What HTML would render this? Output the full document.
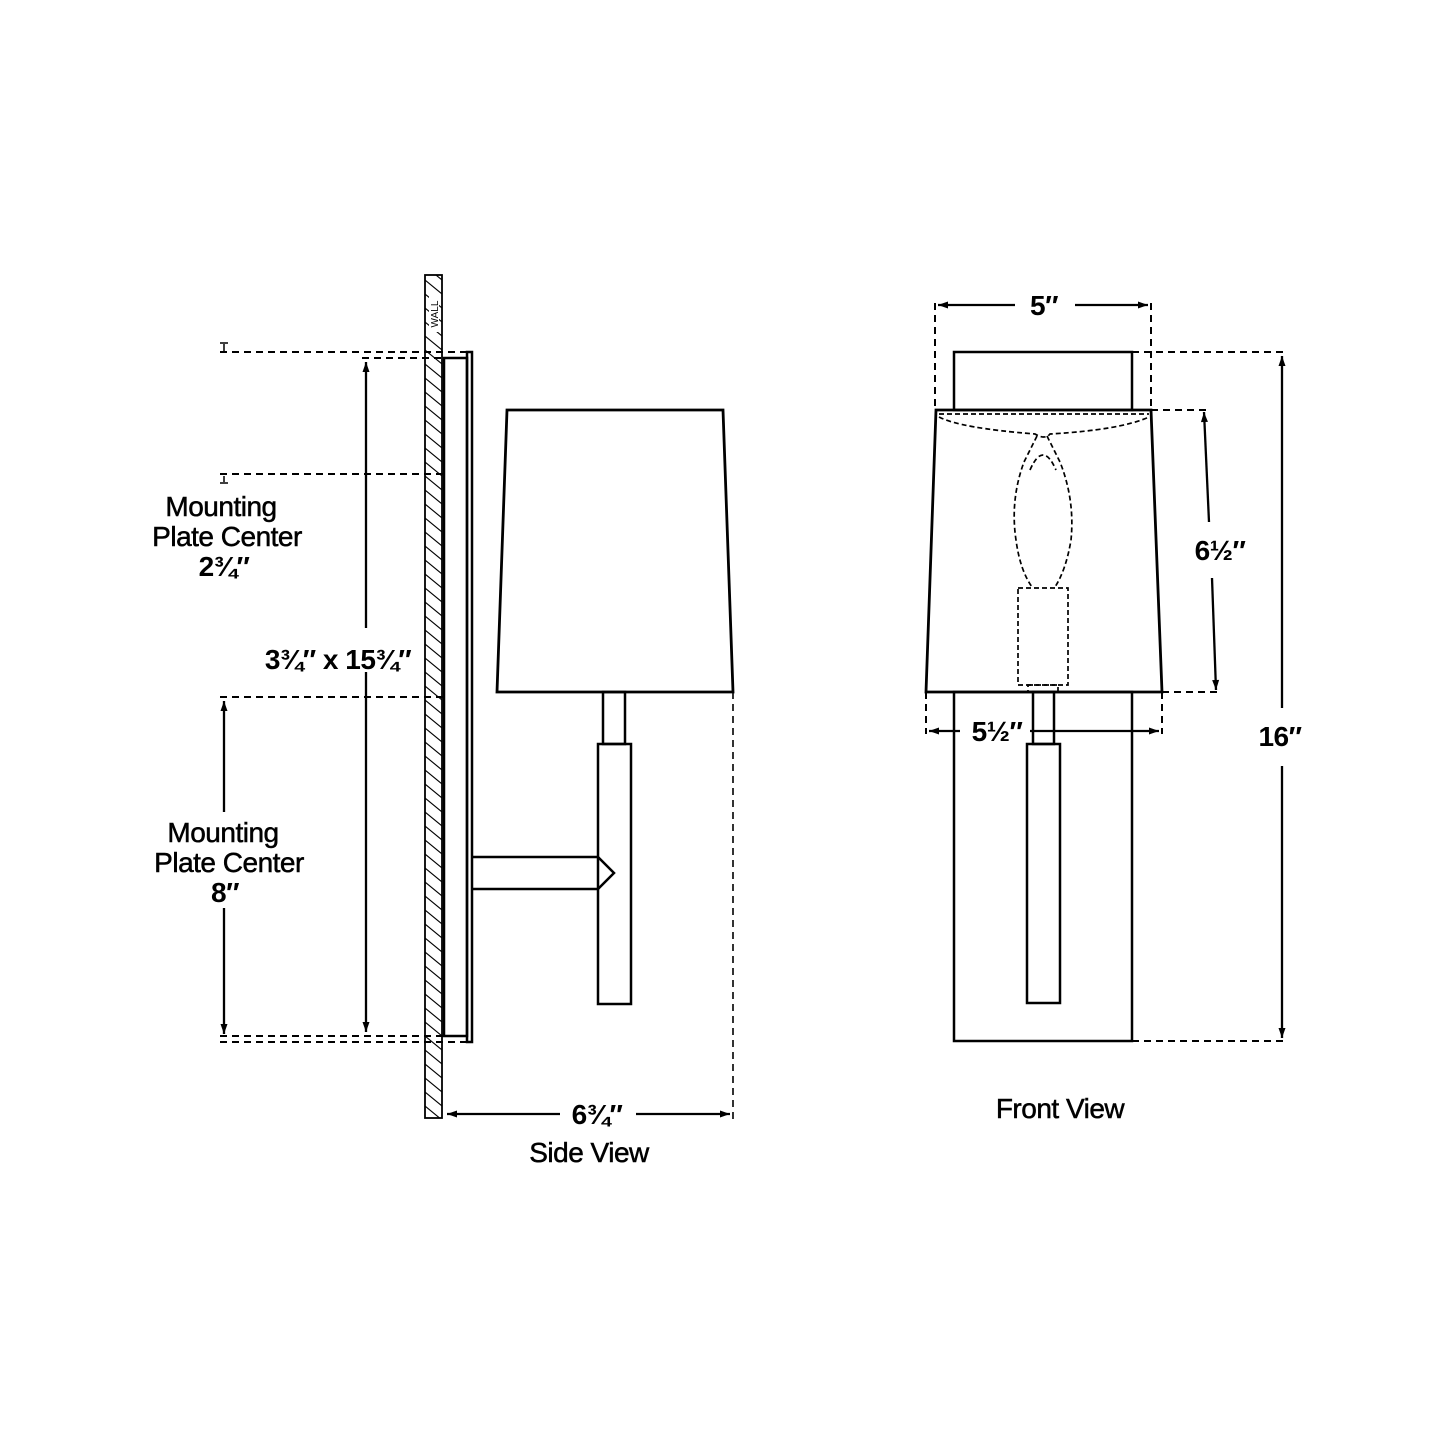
<!DOCTYPE html>
<html><head><meta charset="utf-8"><style>
html,body{margin:0;padding:0;background:#fff;}
svg{display:block;}
text{font-family:"Liberation Sans",sans-serif;fill:#000;}
.t{stroke:#000;stroke-width:0.5;}
</style></head><body>
<svg width="1445" height="1445" viewBox="0 0 1445 1445" xmlns="http://www.w3.org/2000/svg">
<defs>
<pattern id="h" patternUnits="userSpaceOnUse" width="17" height="14">
<line x1="0" y1="0" x2="17" y2="14" stroke="#000" stroke-width="1.1"/>
<line x1="0" y1="-14" x2="17" y2="0" stroke="#000" stroke-width="1.1"/>
<line x1="0" y1="14" x2="17" y2="28" stroke="#000" stroke-width="1.1"/>
</pattern>
<marker id="a" viewBox="0 0 10 10" refX="10" refY="5" markerWidth="11" markerHeight="10" markerUnits="userSpaceOnUse" orient="auto"><path d="M0,1.5 L10,5 L0,8.5 z" fill="#000"/></marker>
</defs>
<g fill="none" stroke="#000" stroke-width="2.5">
<rect x="425" y="275" width="17" height="843" fill="url(#h)" stroke-width="1.8"/>
<rect x="444" y="358" width="23" height="678"/>
<rect x="467" y="352" width="5" height="690"/>
<path d="M507,410 L723,410 L733,692 L497,692 Z" stroke-width="2.8"/>
<rect x="603" y="692" width="22" height="52"/>
<rect x="598" y="744" width="33" height="260"/>
<path d="M472,857 L598,857 L614,873 L598,889 L472,889"/>
</g>
<rect x="429" y="296" width="10" height="36" fill="#fff"/>
<text x="438" y="314" font-size="10" transform="rotate(-90 438 314)" text-anchor="middle">WALL</text>
<g fill="none" stroke="#000" stroke-width="2" stroke-dasharray="7,5">
<line x1="220" y1="352" x2="467" y2="352"/>
<line x1="362" y1="358" x2="444" y2="358"/>
<line x1="220" y1="474" x2="444" y2="474"/>
<line x1="220" y1="697" x2="444" y2="697"/>
<line x1="220" y1="1036" x2="444" y2="1036"/>
<line x1="220" y1="1042" x2="467" y2="1042"/>
<line x1="733" y1="692" x2="733" y2="1120" stroke-width="1.6"/>
</g>
<g stroke="#000" stroke-width="2.3" fill="none">
<line x1="366" y1="628" x2="366" y2="362" marker-end="url(#a)"/>
<line x1="366" y1="672" x2="366" y2="1032" marker-end="url(#a)"/>
<line x1="224" y1="812" x2="224" y2="701" marker-end="url(#a)"/>
<line x1="224" y1="908" x2="224" y2="1034" marker-end="url(#a)"/>
<line x1="224" y1="344" x2="224" y2="351" stroke-width="1.5"/>
<line x1="220" y1="343" x2="228" y2="343" stroke-width="1.5"/>
<line x1="224" y1="476" x2="224" y2="482" stroke-width="1.5"/>
<line x1="220" y1="483" x2="228" y2="483" stroke-width="1.5"/>
<line x1="560" y1="1114" x2="447" y2="1114" marker-end="url(#a)"/>
<line x1="636" y1="1114" x2="730" y2="1114" marker-end="url(#a)"/>
</g>
<g font-size="28" text-anchor="middle" letter-spacing="-0.5">
<text class="t" x="221" y="516">Mounting</text>
<text class="t" x="227" y="546">Plate Center</text>
<text x="224" y="576" font-weight="bold">2¾″</text>
<text class="t" x="223" y="842">Mounting</text>
<text class="t" x="229" y="872">Plate Center</text>
<text x="225" y="902" font-weight="bold">8″</text>
<text x="338" y="669" font-weight="bold">3¾″ x 15¾″</text>
<text x="597" y="1124" font-weight="bold">6¾″</text>
<text class="t" x="589" y="1162">Side View</text>
<text class="t" x="1060" y="1118">Front View</text>
<text x="1044" y="315" font-weight="bold">5″</text>
<text x="1220" y="560" font-weight="bold">6½″</text>
<text x="997" y="741" font-weight="bold">5½″</text>
<text x="1280" y="746" font-weight="bold">16″</text>
</g>
<g fill="none" stroke="#000" stroke-width="2.5">
<rect x="954" y="352" width="178" height="58"/>
<path d="M936,410 L1151,410 L1162,692 L926,692 Z" stroke-width="2.8"/>
<rect x="954" y="692" width="178" height="349"/>
<rect x="1033" y="692" width="21" height="52"/>
<rect x="1027" y="744" width="33" height="259"/>
</g>
<g fill="none" stroke="#000" stroke-width="2" stroke-dasharray="7,5">
<line x1="935" y1="303" x2="935" y2="410"/>
<line x1="1151" y1="303" x2="1151" y2="410"/>
<line x1="1132" y1="352" x2="1286" y2="352"/>
<line x1="1151" y1="410" x2="1210" y2="410"/>
<line x1="1162" y1="692" x2="1220" y2="692"/>
<line x1="926" y1="692" x2="926" y2="734"/>
<line x1="1162" y1="692" x2="1162" y2="734"/>
<line x1="1132" y1="1041" x2="1286" y2="1041"/>
</g>
<g fill="none" stroke="#000" stroke-width="1.7" stroke-dasharray="5,3">
<path d="M939,414 L1149,414"/>
<path d="M939,417 Q960,428 1035,434 Q1045,440 1050,434 Q1120,430 1149,417"/>
<path d="M1037,436 L1024,462 Q1010,500 1016,540 Q1020,570 1032,587"/>
<path d="M1047,436 L1060,462 Q1075,500 1071,540 Q1066,570 1055,587"/>
<path d="M1030,470 Q1043,440 1056,470"/>
<rect x="1018" y="588" width="50" height="97"/>
<rect x="1028" y="685" width="30" height="7"/>
</g>
<g stroke="#000" stroke-width="2.3" fill="none">
<line x1="1015" y1="305" x2="938" y2="305" marker-end="url(#a)"/>
<line x1="1075" y1="305" x2="1148" y2="305" marker-end="url(#a)"/>
<line x1="1209" y1="522" x2="1204" y2="412" marker-end="url(#a)"/>
<line x1="1212" y1="578" x2="1216" y2="690" marker-end="url(#a)"/>
<line x1="1282" y1="708" x2="1282" y2="356" marker-end="url(#a)"/>
<line x1="1282" y1="766" x2="1282" y2="1038" marker-end="url(#a)"/>
<line x1="960" y1="731" x2="929" y2="731" marker-end="url(#a)"/>
<line x1="1030" y1="731" x2="1159" y2="731" marker-end="url(#a)"/>
</g>
</svg>
</body></html>
